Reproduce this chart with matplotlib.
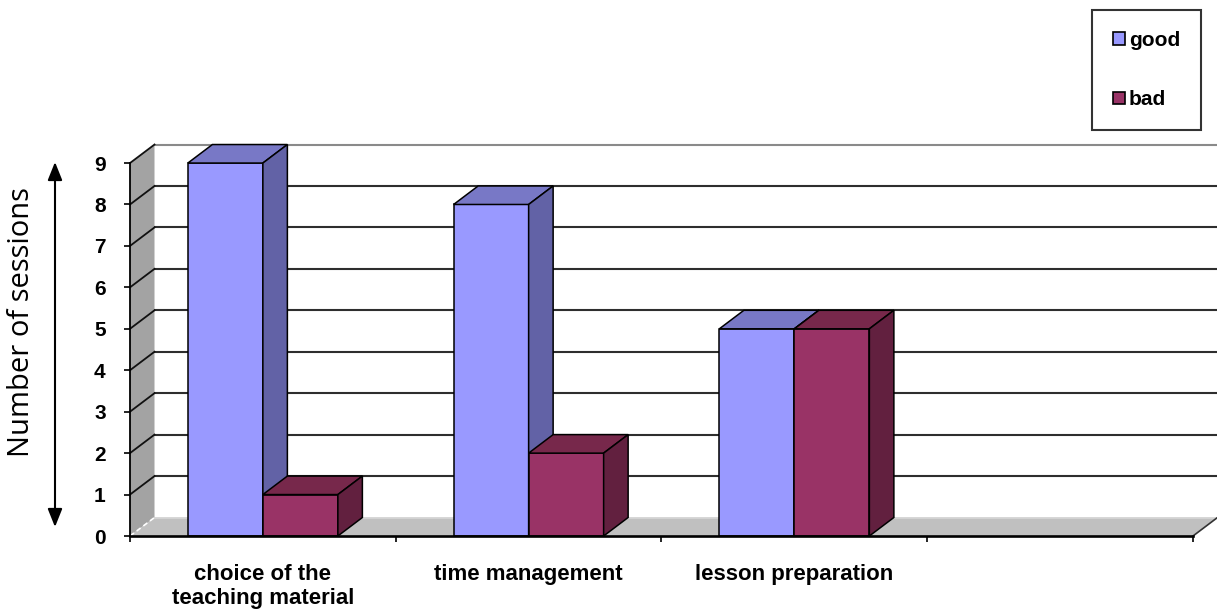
import matplotlib
matplotlib.use('Agg')
import matplotlib.pyplot as plt
from matplotlib.patches import Polygon
import numpy as np

# ---- data ----
categories = ["choice of the\nteaching material", "time management", "lesson preparation", ""]
good = [9, 8, 5, np.nan]
bad = [1, 2, 5, np.nan]
series_names = ["good", "bad"]
yticks = list(range(0, 10))
ylabel = "Number of sessions"

plt.rcParams['font.family'] = ['Liberation Sans', 'DejaVu Sans']

W, H = 1217, 613
fig = plt.figure(figsize=(W / 100, H / 100), dpi=100)

px_x = 265.75   # pixels per category
px_y = 41.44    # pixels per unit
x0_px, y0_px = 130, 536
right_px, bottom_px, top_px = 1217, 545, 125
ax = fig.add_axes([x0_px / W, (H - bottom_px) / H, (right_px - x0_px) / W, (bottom_px - top_px) / H])
ax.set_xlim(0, (right_px - x0_px) / px_x)
ax.set_ylim(-(bottom_px - y0_px) / px_y, (y0_px - top_px) / px_y)
ax.patch.set_alpha(0)

ncat = len(categories)
ymax = yticks[-1]
dx = 24.5 / px_x
dy = 18.5 / px_y
w = 75 / px_x

# ---- walls ----
side = Polygon([(0, 0), (dx, dy), (dx, ymax + dy), (0, ymax)], closed=True,
               facecolor='#a3a3a3', edgecolor='none', zorder=0.5)
ax.add_patch(side)
floor = Polygon([(0, 0), (ncat, 0), (ncat + dx, dy), (dx, dy)], closed=True,
                facecolor='#c0c0c0', edgecolor='none', zorder=0.6)
ax.add_patch(floor)
ax.plot([dx, ncat + dx], [dy, dy], color='#d6d6d6', lw=1.2, zorder=0.65, clip_on=False)
ax.plot([ncat, ncat + dx], [0, dy], color='#333333', lw=1.2, zorder=0.7, clip_on=False)
ax.plot([0, dx], [0, dy], color='white', lw=1.2, ls=(0, (3, 2)), zorder=0.7, clip_on=False)

for k in yticks[1:]:
    col = '#8a8a8a' if k == ymax else '#2e2e2e'
    ax.plot([dx, ncat + dx], [k + dy, k + dy], color=col, lw=1.5, zorder=0.8, clip_on=False)
    ax.plot([0, dx], [k, k + dy], color='#111111', lw=1.3, zorder=0.8, clip_on=False)

# ---- bars ----
good_face, good_top, good_side = '#9999FF', '#7878C6', '#6262A6'
bad_face, bad_top, bad_side = '#993366', '#77284B', '#62203F'

centers = np.arange(ncat) + 0.5
gx = centers - w
bx = centers
ax.bar(gx, good, width=w, align='edge', color=good_face, edgecolor='black', lw=1.1,
       zorder=3, label=series_names[0])
ax.bar(bx, bad, width=w, align='edge', color=bad_face, edgecolor='black', lw=1.1,
       zorder=4, label=series_names[1])


def box3d(x, v, top, sidec, z):
    if v is None or np.isnan(v):
        return
    ax.add_patch(Polygon([(x, v), (x + w, v), (x + w + dx, v + dy), (x + dx, v + dy)],
                         closed=True, facecolor=top, edgecolor='black', lw=1.1, zorder=z))
    ax.add_patch(Polygon([(x + w, 0), (x + w, v), (x + w + dx, v + dy), (x + w + dx, dy)],
                         closed=True, facecolor=sidec, edgecolor='black', lw=1.1, zorder=z))


for i in range(ncat):
    box3d(gx[i], good[i], good_top, good_side, 3)
    box3d(bx[i], bad[i], bad_top, bad_side, 4)

# ---- axes ----
for s in ['top', 'right']:
    ax.spines[s].set_visible(False)
ax.spines['left'].set_bounds(0, ymax)
ax.spines['left'].set_linewidth(1.3)
ax.spines['bottom'].set_position(('data', 0))
ax.spines['bottom'].set_bounds(0, ncat)
ax.spines['bottom'].set_linewidth(1.9)
ax.spines['left'].set_zorder(5)
ax.spines['bottom'].set_zorder(5)

ax.set_yticks(yticks)
ax.set_yticklabels([str(t) for t in yticks], fontsize=15, fontweight='bold')
ax.tick_params(axis='y', length=4.5, width=1.2, pad=13)

ax.set_xticks(range(ncat + 1))
ax.set_xticklabels([''] * (ncat + 1))
ax.tick_params(axis='x', which='major', length=4, width=1.2)
ax.set_xticks(centers, minor=True)
ax.set_xticklabels(categories, minor=True, fontsize=16, fontweight='bold', linespacing=1.2)
ax.tick_params(axis='x', which='minor', length=0, pad=20)

# ---- y label and arrow ----
fig.text(22 / W, (H - 322) / H, ylabel, rotation=90, ha='center', va='center',
         fontsize=21, family=['Open Sans', 'DejaVu Sans'])
ax.annotate('', xy=(55 / W, (H - 162) / H), xytext=(55 / W, (H - 527) / H),
            xycoords='figure fraction', textcoords='figure fraction',
            arrowprops=dict(arrowstyle='<|-|>,head_length=0.55,head_width=0.22',
                            color='black', lw=1.5, shrinkA=0, shrinkB=0,
                            mutation_scale=20))

# ---- legend ----
leg = fig.legend(loc='upper right', bbox_to_anchor=(1201 / W, 1 - 10 / H),
                 prop=dict(weight='bold', size=15), frameon=True, fancybox=False,
                 handlelength=0.55, handleheight=0.55, handletextpad=0.2,
                 labelspacing=1.95, borderpad=1.0, borderaxespad=0)
leg.get_frame().set_edgecolor('black')
leg.get_frame().set_linewidth(1.5)
for h in leg.legend_handles:
    h.set_edgecolor('black')
    h.set_linewidth(1.2)

fig.savefig('out.png', dpi=100)
